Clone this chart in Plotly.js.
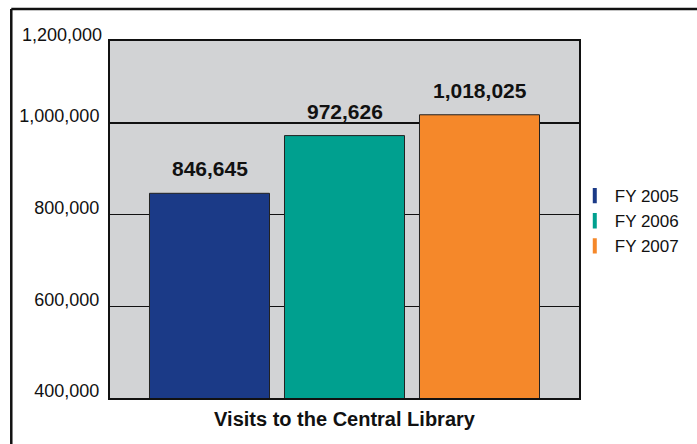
<!DOCTYPE html>
<html>
<head>
<meta charset="utf-8">
<script src="https://cdn.plot.ly/plotly-3.0.1.min.js"></script>
<style>html,body{margin:0;padding:0;background:#fff;}#chart{width:697px;height:444px;}</style>
</head>
<body>
<div id="chart"></div>
<script>
const chartTitle = 'Visits to the Central Library';
const seriesNames = ['FY 2005', 'FY 2006', 'FY 2007'];
const visits = [846645, 972626, 1018025];
const colors = ['#1b3a87', '#00a08f', '#f5882a'];
const tickVals = [400000, 600000, 800000, 1000000];
const tickText = ['400,000', '600,000', '800,000', '1,000,000'];
const topLabel = '1,200,000';
const yRange = [400000, 1179000];

const FONT = 'Liberation Sans, Arial, Helvetica, sans-serif';

const barTrace = {
  type: 'bar',
  x: seriesNames,
  y: visits,
  marker: {color: colors, line: {color: '#222', width: 1}},
  showlegend: false,
  hoverinfo: 'none'
};

const legendTraces = seriesNames.map((name, i) => ({
  type: 'scatter',
  mode: 'markers',
  name: name,
  x: [null],
  y: [null],
  marker: {symbol: 'line-ns', size: 11, color: colors[i], line: {color: colors[i], width: 4}},
  hoverinfo: 'none'
}));

const valueLabels = seriesNames.map((name, i) => ({
  xref: 'x', yref: 'y', x: name, y: visits[i],
  xanchor: 'center', yanchor: 'bottom', yshift: 11,
  showarrow: false, text: visits[i].toLocaleString('en-US'),
  font: {family: FONT, size: 21, color: '#111', weight: 'bold'}
}));

const layout = {
  width: 697, height: 444,
  margin: {l: 110, r: 118, t: 41, b: 46, autoexpand: false},
  paper_bgcolor: '#ffffff',
  plot_bgcolor: '#d2d3d5',
  bargap: 0.111,
  font: {family: FONT, color: '#111'},
  showlegend: true,
  legend: {
    x: 0.991, xanchor: 'left', y: 0.616, yanchor: 'top',
    font: {family: FONT, size: 17, color: '#111'},
    bgcolor: 'rgba(0,0,0,0)', itemwidth: 30, tracegroupgap: 0
  },
  xaxis: {
    type: 'category',
    range: [-0.737, 2.737],
    showgrid: false, zeroline: false,
    showline: true, mirror: true, linecolor: '#111', linewidth: 2,
    ticks: '', showticklabels: false,
    title: {text: chartTitle, standoff: 13,
            font: {family: FONT, size: 20, color: '#111', weight: 'bold'}}
  },
  yaxis: {
    range: yRange,
    tickvals: tickVals, ticktext: tickText,
    showgrid: true, gridcolor: '#111', gridwidth: 1.5,
    zeroline: false,
    showline: true, mirror: true, linecolor: '#111', linewidth: 2,
    ticks: '', ticklabelstandoff: 5, ticklabelshift: -7,
    tickfont: {family: FONT, size: 18, color: '#111'}
  },
  annotations: valueLabels.concat([
    {xref: 'paper', yref: 'paper', x: 0, y: 1, xanchor: 'right', yanchor: 'middle',
     xshift: -6, yshift: 6, showarrow: false, text: topLabel,
     font: {family: FONT, size: 18, color: '#111'}}
  ]),
  shapes: [
    {type: 'line', xref: 'paper', yref: 'paper', x0: -0.2105, x1: 1.3, y0: 1.0896, y1: 1.0896,
     line: {color: '#111', width: 2.5}},
    {type: 'line', xref: 'paper', yref: 'paper', x0: -0.2105, x1: -0.2105, y0: 1.0896, y1: -0.2,
     line: {color: '#111', width: 2.5}}
  ]
};

Plotly.newPlot('chart', [barTrace].concat(legendTraces), layout, {staticPlot: true});
</script>
</body>
</html>
